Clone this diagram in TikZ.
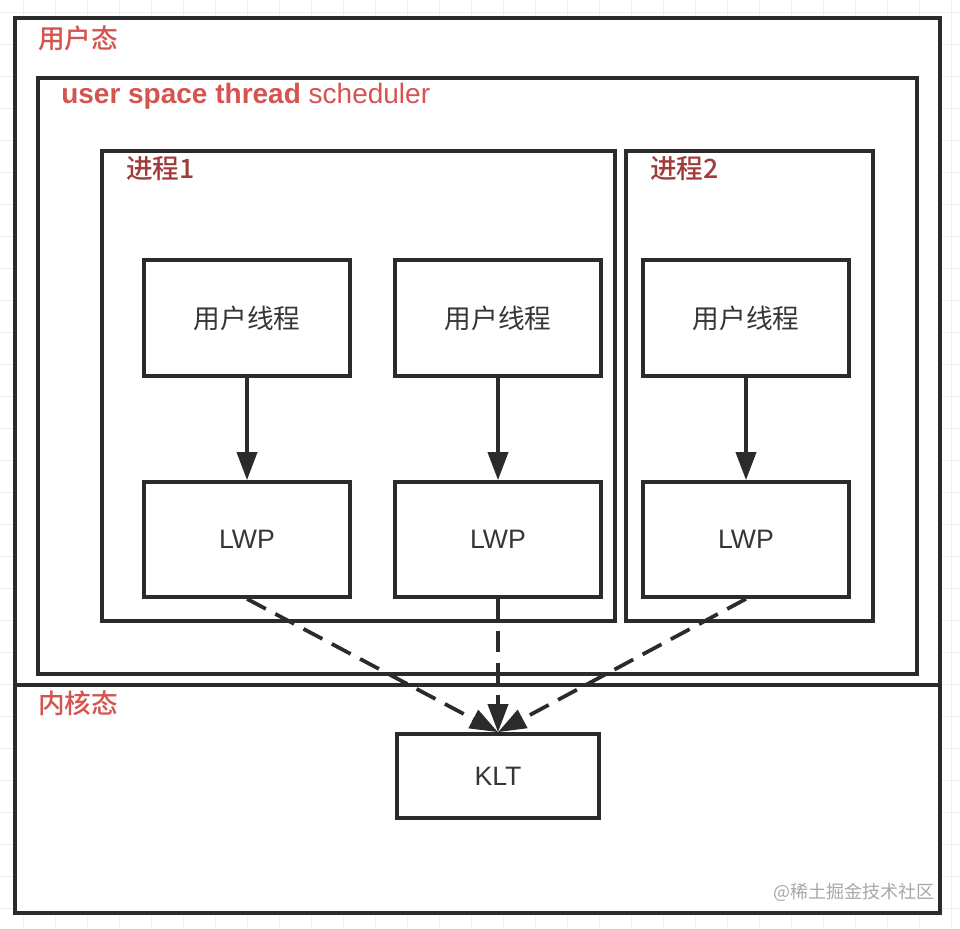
\documentclass[tikz,border=0pt]{standalone}
\usepackage{fontspec}
\setmainfont{Liberation Sans}
\newfontfamily\cjk{Noto Sans CJK SC}
\newfontfamily\cjkm{Noto Sans CJK SC Medium}
\usetikzlibrary{arrows.meta}
\definecolor{ln}{HTML}{2B2B2B}
\definecolor{lab}{HTML}{D55450}
\definecolor{proc}{HTML}{A33A3A}
\definecolor{gridc}{HTML}{F0F0F0}
\definecolor{wm}{HTML}{A8A8A8}
\begin{document}
\begin{tikzpicture}[x=0.75pt,y=-0.75pt,
  box/.style={draw=ln,line width=2.8pt,fill=white,rectangle,inner sep=0pt},
  cont/.style={draw=ln,line width=2.8pt,rectangle,inner sep=0pt},
  txt/.style={font=\fontsize{20}{24}\selectfont\cjk,text=ln!95},
  lbl/.style={anchor=west,inner sep=0pt,font=\fontsize{20}{24}\selectfont\cjkm,text=lab},
  solidarr/.style={draw=ln,line width=2.8pt,-{Triangle[length=21pt,width=15pt]}},
  dasharr/.style={draw=ln,line width=2.8pt,dash pattern=on 16pt off 8pt,-{Triangle[length=21pt,width=15pt]}}
]
\useasboundingbox (0,0) rectangle (960,928);
\fill[white] (0,0) rectangle (960,928);
\foreach \gx in {23,55,...,960} \draw[gridc,line width=0.75pt] (\gx,0) -- (\gx,928);
\foreach \gy in {12,44,...,928} \draw[gridc,line width=0.75pt] (0,\gy) -- (960,\gy);
% outer
\node[box,minimum width=925*0.75pt,minimum height=895*0.75pt] (outer) at (477.5,465.5) {};
\coordinate (divl) at (15,685);
\coordinate (divr) at (940,685);
\draw[ln,line width=2.8pt] (divl) -- (divr);
\node[cont,minimum width=879*0.75pt,minimum height=596*0.75pt] (sched) at (477.5,376) {};
\node[cont,minimum width=513*0.75pt,minimum height=470*0.75pt] (p1) at (358.5,386) {};
\node[cont,minimum width=247*0.75pt,minimum height=470*0.75pt] (p2) at (749.5,386) {};
% labels
\node[lbl] (lu) at (38,38) {用户态};
\node[anchor=west,inner sep=0pt,text=lab,font=\fontsize{21}{25}\selectfont] (ls) at (61,96) {\textbf{user space thread} scheduler};
\node[lbl,text=proc] (lp1) at (126,169) {进程1};
\node[lbl,text=proc] (lp2) at (650,169) {进程2};
\node[lbl] (lk) at (38,703) {内核态};
% threads
\node[box,txt,minimum width=206*0.75pt,minimum height=116*0.75pt] (u1) at (247,318) {用户线程};
\node[box,txt,minimum width=206*0.75pt,minimum height=116*0.75pt] (u2) at (498,318) {用户线程};
\node[box,txt,minimum width=206*0.75pt,minimum height=116*0.75pt] (u3) at (746,318) {用户线程};
\node[box,txt,font=\fontsize{20}{24}\selectfont,minimum width=206*0.75pt,minimum height=115*0.75pt] (w1) at (247,539.5) {LWP};
\node[box,txt,font=\fontsize{20}{24}\selectfont,minimum width=206*0.75pt,minimum height=115*0.75pt] (w2) at (498,539.5) {LWP};
\node[box,txt,font=\fontsize{20}{24}\selectfont,minimum width=206*0.75pt,minimum height=115*0.75pt] (w3) at (746,539.5) {LWP};
\node[box,txt,font=\fontsize{20}{24}\selectfont,minimum width=202*0.75pt,minimum height=84*0.75pt] (klt) at (498,776) {KLT};
% arrows
\draw[solidarr] (u1.south) -- (w1.north);
\draw[solidarr] (u2.south) -- (w2.north);
\draw[solidarr] (u3.south) -- (w3.north);
\draw[dasharr] (w1.south) -- (klt.north);
\draw[dasharr] (w2.south) -- (klt.north);
\draw[dasharr] (w3.south) -- (klt.north);
% watermark
\node[anchor=east,inner sep=0pt,text=wm,font=\fontsize{13.5}{16}\selectfont\cjk] (wmk) at (935,892) {@稀土掘金技术社区};
\end{tikzpicture}
\end{document}
